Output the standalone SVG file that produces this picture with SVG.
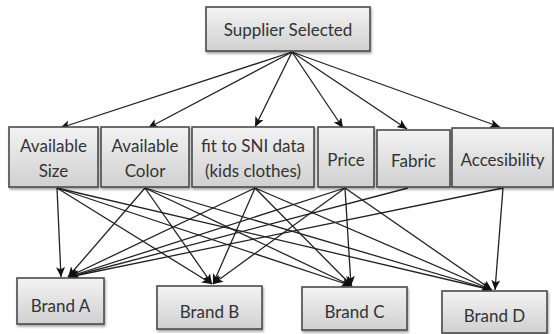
<svg xmlns="http://www.w3.org/2000/svg" width="554" height="334" viewBox="0 0 554 334">
<style>
.box{fill:url(#g);stroke:#4a4a4a;stroke-width:1.6;filter:url(#sh)}
.t{font-family:Lato,"Liberation Sans",sans-serif;font-size:17px;fill:#333;text-anchor:middle}
.c{fill:none;stroke:#222;stroke-width:1.3;marker-end:url(#ah)}
</style>
<defs>
<linearGradient id="g" x1="0" y1="0" x2="0" y2="1">
<stop offset="0" stop-color="#f3f3f3"/>
<stop offset="1" stop-color="#d0d0d0"/>
</linearGradient>
<filter id="sh" x="-10%" y="-10%" width="130%" height="140%">
<feDropShadow dx="1" dy="2" stdDeviation="1.2" flood-color="#000" flood-opacity="0.35"/>
</filter>
<marker id="ah" markerUnits="userSpaceOnUse" markerWidth="11" markerHeight="9" refX="10" refY="4.5" orient="auto">
<path d="M0,0 L10,4.5 L0,9 L2.5,4.5 z" fill="#111"/>
</marker>
</defs>
<g id="connectors">
<path class="c" d="M292,52 L60,128"/>
<path class="c" d="M292,52 L148,128"/>
<path class="c" d="M292,52 L255,127"/>
<path class="c" d="M292,52 L343,128"/>
<path class="c" d="M292,52 L407,129"/>
<path class="c" d="M292,52 L500,127"/>
<path class="c" d="M57,188 L61,277"/>
<path class="c" d="M57,188 L212,284"/>
<path class="c" d="M57,188 L352,286"/>
<path class="c" d="M57,188 L492,290"/>
<path class="c" d="M145,188 L68,277"/>
<path class="c" d="M145,188 L212,284"/>
<path class="c" d="M145,188 L352,286"/>
<path class="c" d="M145,188 L492,290"/>
<path class="c" d="M255,188 L68,277"/>
<path class="c" d="M255,188 L213,284"/>
<path class="c" d="M255,188 L352,286"/>
<path class="c" d="M255,188 L492,290"/>
<path class="c" d="M345,188 L68,277"/>
<path class="c" d="M345,188 L213,284"/>
<path class="c" d="M345,188 L351,286"/>
<path class="c" d="M345,188 L492,290"/>
<path class="c" d="M408,188 L69,277"/>
<path class="c" d="M503,188 L69,277"/>
<path class="c" d="M503,188 L495,290"/>
</g>
<g id="supplier">
<rect class="box" x="206" y="7" width="164" height="44"/>
<text class="t" x="288" y="36">Supplier Selected</text>
</g>
<g id="size">
<rect class="box" x="9" y="127" width="89" height="60"/>
<text class="t" x="53.5" y="152">Available</text>
<text class="t" x="53.5" y="177">Size</text>
</g>
<g id="color">
<rect class="box" x="101" y="127" width="88" height="60"/>
<text class="t" x="145" y="152">Available</text>
<text class="t" x="145" y="177">Color</text>
</g>
<g id="sni">
<rect class="box" x="192" y="127" width="122" height="60"/>
<text class="t" x="253" y="152">fit to SNI data</text>
<text class="t" x="253" y="177">(kids clothes)</text>
</g>
<g id="price">
<rect class="box" x="318" y="127" width="56" height="60"/>
<text class="t" x="346" y="166">Price</text>
</g>
<g id="fabric">
<rect class="box" x="377" y="130" width="73" height="57"/>
<text class="t" x="413.5" y="167">Fabric</text>
</g>
<g id="accesibility">
<rect class="box" x="452" y="128" width="101" height="59"/>
<text class="t" x="502.5" y="166">Accesibility</text>
</g>
<g id="brandA">
<rect class="box" x="17" y="278" width="87" height="46"/>
<text class="t" x="60.5" y="312">Brand A</text>
</g>
<g id="brandB">
<rect class="box" x="157" y="286" width="105" height="43"/>
<text class="t" x="209.5" y="318">Brand B</text>
</g>
<g id="brandC">
<rect class="box" x="302" y="287" width="105" height="43"/>
<text class="t" x="354.5" y="318">Brand C</text>
</g>
<g id="brandD">
<rect class="box" x="442" y="291" width="105" height="42"/>
<text class="t" x="494.5" y="322">Brand D</text>
</g>
</svg>
